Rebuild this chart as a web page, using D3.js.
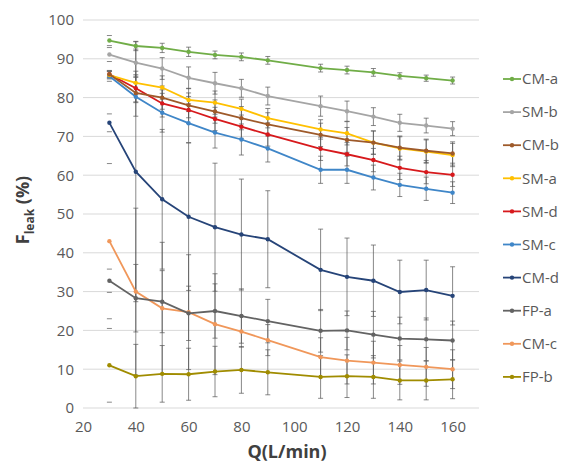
<!DOCTYPE html>
<html>
<head>
<meta charset="utf-8">
<script src="https://cdn.jsdelivr.net/npm/d3@7"></script>
<style>
  body { margin: 0; background: #fff; }
  text { font-family: 'Open Sans', 'Noto Sans', sans-serif; }
</style>
</head>
<body>
<div id="chart"></div>
<script>
// flow rates (L/min)
var flows = [30, 40, 50, 60, 70, 80, 90, 110, 120, 130, 140, 150, 160];
var xTicks = [20, 40, 60, 80, 100, 120, 140, 160];
var yTicks = [0, 10, 20, 30, 40, 50, 60, 70, 80, 90, 100];

var names = ['CM-a', 'SM-b', 'CM-b', 'SM-a', 'SM-d', 'SM-c', 'CM-d', 'FP-a', 'CM-c', 'FP-b'];
var colors = ['#70ad47', '#a5a5a5', '#9e5a2a', '#ffc000', '#d7191c', '#3f86c8', '#264478', '#636363', '#f0975a', '#a08c00'];

// Fleak values, one array per device
var cmA = [94.7, 93.3, 92.8, 91.8, 91.0, 90.5, 89.6, 87.6, 87.1, 86.5, 85.6, 85.0, 84.4];
var smB = [91.1, 89.0, 87.5, 85.1, 83.7, 82.4, 80.4, 77.8, 76.5, 75.1, 73.5, 72.8, 72.0];
var cmB = [86.0, 81.2, 80.0, 78.0, 76.4, 74.7, 73.1, 70.4, 69.1, 68.4, 67.1, 66.3, 65.6];
var smA = [85.8, 83.8, 82.6, 79.4, 78.7, 77.1, 74.7, 71.8, 70.8, 68.4, 66.9, 66.1, 65.2];
var smD = [86.0, 82.4, 78.5, 76.8, 74.5, 72.5, 70.5, 66.8, 65.4, 63.9, 61.9, 60.8, 60.1];
var smC = [85.5, 80.2, 76.1, 73.4, 71.0, 69.2, 66.9, 61.4, 61.4, 59.4, 57.5, 56.5, 55.5];
var cmD = [73.5, 60.9, 53.8, 49.3, 46.6, 44.7, 43.5, 35.6, 33.8, 32.8, 29.9, 30.4, 28.9];
var fpA = [32.8, 28.3, 27.4, 24.4, 25.0, 23.7, 22.4, 19.9, 20.0, 18.9, 17.9, 17.7, 17.4];
var cmC = [43.0, 30.0, 25.7, 24.7, 21.6, 19.7, 17.5, 13.1, 12.2, 11.7, 11.1, 10.6, 10.0];
var fpB = [11.0, 8.2, 8.8, 8.7, 9.4, 9.8, 9.2, 8.0, 8.2, 8.0, 7.1, 7.1, 7.4];

// error bar half widths (+/-)
var cmAErr = [1.3, 1.2, 1.2, 1.2, 1.0, 1.0, 1.0, 1.0, 1.0, 1.0, 0.8, 0.8, 0.9];
var smBErr = [1.8, 3.5, 2.8, 2.8, 2.8, 2.3, 2.3, 2.6, 2.6, 2.3, 2.2, 1.9, 1.8];
var cmBErr = [0.8, 2.5, 3.0, 3.2, 3.0, 3.0, 3.0, 3.0, 3.2, 3.0, 3.0, 3.0, 3.0];
var smAErr = [1.0, 3.0, 3.0, 3.0, 3.0, 2.5, 2.5, 2.5, 3.0, 3.0, 3.0, 3.0, 3.0];
var smDErr = [1.0, 3.5, 3.5, 3.5, 3.0, 3.0, 3.0, 3.0, 3.0, 3.0, 3.0, 3.0, 3.0];
var smCErr = [1.3, 5.0, 5.0, 5.0, 4.0, 4.0, 3.5, 3.5, 3.5, 3.2, 3.0, 3.0, 2.8];
var cmDErr = [2.3, 33.5, 18, 19, 16.5, 14.3, 12.5, 10.5, 10, 9.2, 8.2, 7.7, 7.5];
var fpAErr = [3.0, 8.7, 8.0, 7.0, 7.0, 7.0, 5.6, 5.5, 5.0, 6.0, 5.5, 5.5, 5.0];
var cmCErr = [20, 21.5, 17, 14.8, 13, 4.0, 4.0, 5.0, 6.0, 5.5, 5.0, 5.0, 5.0];
var fpBErr = [9.5, 8.2, 7.3, 6.7, 6.5, 6.0, 5.8, 5.5, 5.5, 5.5, 5.0, 5.0, 5.0];

var values = [cmA, smB, cmB, smA, smD, smC, cmD, fpA, cmC, fpB];
var errors = [cmAErr, smBErr, cmBErr, smAErr, smDErr, smCErr, cmDErr, fpAErr, cmCErr, fpBErr];

var series = names.map(function (n, i) {
  return {
    name: n,
    color: colors[i],
    points: flows.map(function (q, j) {
      return { q: q, v: values[i][j], e: errors[i][j] };
    })
  };
});

var width = 561, height = 464;
var margin = { top: 20, right: 82, bottom: 56, left: 83 };

var svg = d3.select('#chart')
  .append('svg')
  .attr('width', width)
  .attr('height', height);

var x = d3.scaleLinear().domain([20, 170]).range([margin.left, width - margin.right]);
var y = d3.scaleLinear().domain([0, 100]).range([height - margin.bottom, margin.top]);

// horizontal gridlines
svg.append('g')
  .selectAll('line')
  .data(yTicks)
  .enter()
  .append('line')
  .attr('x1', x(20))
  .attr('x2', x(170))
  .attr('y1', function (d) { return y(d); })
  .attr('y2', function (d) { return y(d); })
  .style('stroke', '#d9d9d9')
  .style('stroke-width', 1);

// y axis labels
var yAxis = d3.axisLeft(y).tickValues(yTicks).tickSize(0).tickPadding(9);
svg.append('g')
  .attr('transform', 'translate(' + margin.left + ',0)')
  .call(yAxis)
  .call(function (g) { g.select('.domain').remove(); })
  .selectAll('text')
  .style('font-size', '15px')
  .style('fill', '#595959');

// x axis labels
var xAxis = d3.axisBottom(x).tickValues(xTicks).tickSize(0).tickPadding(13);
svg.append('g')
  .attr('transform', 'translate(0,' + y(0) + ')')
  .call(xAxis)
  .call(function (g) { g.select('.domain').remove(); })
  .selectAll('text')
  .style('font-size', '15px')
  .style('fill', '#595959');

// axis titles
svg.append('text')
  .attr('x', 287)
  .attr('y', 458)
  .attr('text-anchor', 'middle')
  .style('font-size', '18px')
  .style('font-weight', 'bold')
  .style('fill', '#404040')
  .text('Q(L/min)');

var yt = svg.append('text')
  .attr('transform', 'translate(29,210) rotate(-90)')
  .attr('text-anchor', 'middle')
  .style('font-size', '18px')
  .style('font-weight', 'bold')
  .style('fill', '#404040');
yt.append('tspan').text('F');
yt.append('tspan').attr('dy', 5).style('font-size', '12px').text('leak');
yt.append('tspan').attr('dy', -5).text(' (%)');

// error bars (the first flow only shows its caps in the original)
var eb = svg.append('g')
  .style('stroke', '#555')
  .style('stroke-width', 1)
  .style('stroke-opacity', 0.7);

series.forEach(function (s) {
  s.points.forEach(function (p, j) {
    var lo = Math.max(0, p.v - p.e), hi = Math.min(100, p.v + p.e);
    if (j > 0) {
      eb.append('line')
        .attr('x1', x(p.q)).attr('x2', x(p.q))
        .attr('y1', y(lo)).attr('y2', y(hi));
    }
    [lo, hi].forEach(function (c) {
      eb.append('line')
        .attr('x1', x(p.q) - 2.5).attr('x2', x(p.q) + 2.5)
        .attr('y1', y(c)).attr('y2', y(c));
    });
  });
});

// series lines + markers
var line = d3.line()
  .x(function (d) { return x(d.q); })
  .y(function (d) { return y(d.v); });

series.slice().reverse().forEach(function (s) {
  svg.append('path')
    .datum(s.points)
    .attr('d', line)
    .attr('fill', 'none')
    .style('stroke', s.color)
    .style('stroke-width', 1.8);

  svg.append('g')
    .selectAll('circle')
    .data(s.points)
    .enter()
    .append('circle')
    .attr('cx', function (d) { return x(d.q); })
    .attr('cy', function (d) { return y(d.v); })
    .attr('r', 2.2)
    .style('fill', s.color);
});

// legend
var legend = svg.append('g')
  .selectAll('g')
  .data(series)
  .enter()
  .append('g')
  .attr('transform', function (d, i) { return 'translate(503,' + (79 + i * 33.1) + ')'; });

legend.append('line')
  .attr('x1', 0).attr('x2', 18)
  .style('stroke', function (d) { return d.color; })
  .style('stroke-width', 1.8);
legend.append('circle')
  .attr('cx', 9)
  .attr('r', 2.2)
  .style('fill', function (d) { return d.color; });
legend.append('text')
  .attr('x', 19)
  .attr('dy', '0.35em')
  .style('font-size', '15px')
  .style('fill', '#595959')
  .text(function (d) { return d.name; });
</script>
</body>
</html>
